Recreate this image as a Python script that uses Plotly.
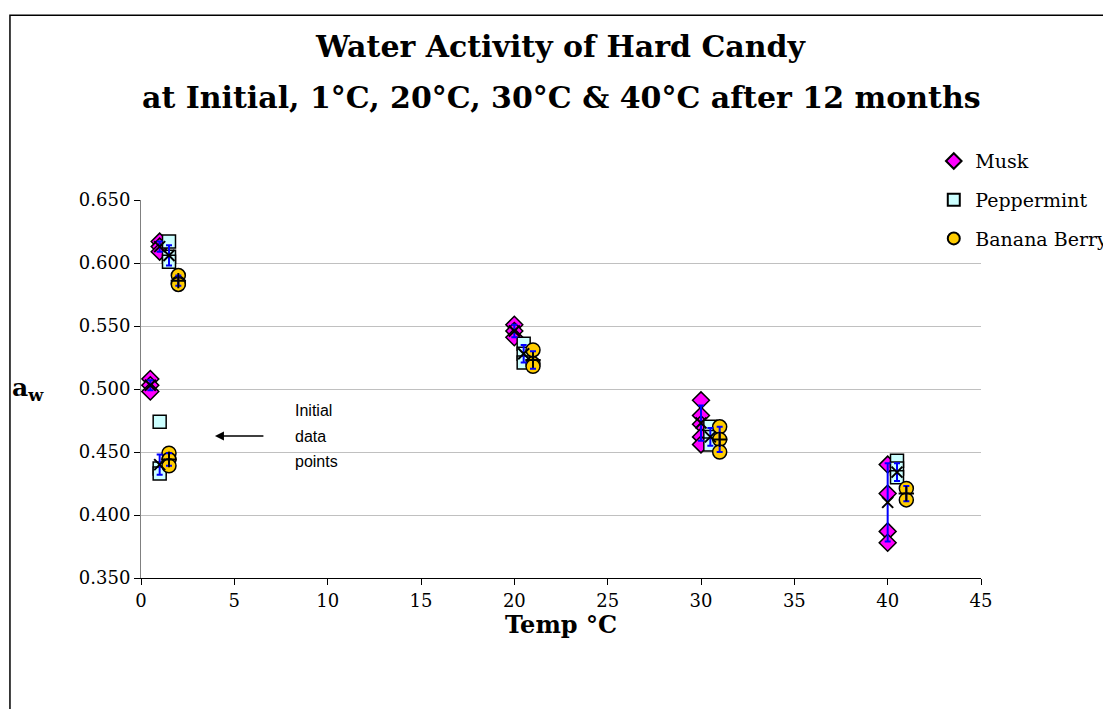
import plotly.graph_objects as go

# Replicate values
musk_x = [0.5, 0.5, 0.5, 1, 1, 1, 20, 20, 20, 30, 30, 30, 30, 30, 40, 40, 40, 40]
musk_y = [0.508, 0.503, 0.498, 0.617, 0.613, 0.609, 0.551, 0.546, 0.541,
          0.491, 0.479, 0.472, 0.462, 0.456, 0.440, 0.417, 0.387, 0.378]
pep_x = [1, 1, 1, 1.5, 1.5, 1.5, 20.5, 20.5, 20.5, 30.5, 30.5, 30.5, 40.5, 40.5, 40.5]
pep_y = [0.474, 0.437, 0.433, 0.617, 0.605, 0.601, 0.536, 0.528, 0.521,
         0.470, 0.462, 0.456, 0.443, 0.437, 0.430]
ban_x = [1.5, 1.5, 1.5, 2, 2, 2, 21, 21, 21, 31, 31, 31, 41, 41]
ban_y = [0.449, 0.444, 0.439, 0.590, 0.584, 0.583, 0.531, 0.520, 0.518,
         0.470, 0.460, 0.450, 0.421, 0.412]

# Means and error bars
musk_mx = [0.5, 1, 20, 30, 40]
musk_m = [0.503, 0.613, 0.546, 0.473, 0.410]
musk_e = [0.004, 0.004, 0.005, 0.014, 0.031]
pep_mx = [1, 1.5, 20.5, 30.5, 40.5]
pep_m = [0.440, 0.606, 0.528, 0.462, 0.434]
pep_e = [0.008, 0.008, 0.007, 0.007, 0.007]
ban_mx = [1.5, 2, 21, 31, 41]
ban_m = [0.444, 0.586, 0.523, 0.460, 0.417]
ban_e = [0.005, 0.004, 0.007, 0.010, 0.006]

y_ticks = [0.35, 0.40, 0.45, 0.50, 0.55, 0.60, 0.65]
y_ticktext = ["0.350", "0.400", "0.450", "0.500", "0.550", "0.600", "0.650"]
x_ticks = [0, 5, 10, 15, 20, 25, 30, 35, 40, 45]

title_1 = "Water Activity of Hard Candy"
title_2 = "at Initial, 1°C, 20°C, 30°C &amp; 40°C after 12 months"
note_lines = ["Initial", "data", "points"]

SERIF = "DejaVu Serif"

fig = go.Figure()

fig.add_trace(go.Scatter(x=musk_x, y=musk_y, mode="markers", name="Musk", legendgroup="a",
                         marker=dict(symbol="diamond", size=13, color="#FF00FF",
                                     line=dict(color="black", width=1.5))))
fig.add_trace(go.Scatter(x=pep_x, y=pep_y, mode="markers", name="Peppermint", legendgroup="b",
                         marker=dict(symbol="square", size=13, color="#CCFFFF",
                                     line=dict(color="black", width=1.5))))
fig.add_trace(go.Scatter(x=ban_x, y=ban_y, mode="markers", name="Banana Berry", legendgroup="c",
                         marker=dict(symbol="circle", size=14, color="#FFCC00",
                                     line=dict(color="black", width=1.5))))

for mx, m, e, sym in [(musk_mx, musk_m, musk_e, "x-thin-open"),
                      (pep_mx, pep_m, pep_e, "x-thin-open"),
                      (ban_mx, ban_m, ban_e, "cross-thin-open")]:
    fig.add_trace(go.Scatter(x=mx, y=m, mode="markers", showlegend=False,
                             marker=dict(symbol=sym, size=11, color="black",
                                         line=dict(color="black", width=2)),
                             error_y=dict(type="data", array=e, visible=True,
                                          color="#0000FF", thickness=2, width=3)))

# arrow to initial data points
fig.add_annotation(x=3.96, y=0.4627, xref="x", yref="y", ax=50, ay=0,
                   text="", showarrow=True, arrowhead=2, arrowsize=1.2,
                   arrowwidth=1.5, arrowcolor="black")
for txt, yy in zip(note_lines, [0.4833, 0.4627, 0.4421]):
    fig.add_annotation(x=8.15, y=yy, xref="x", yref="y", showarrow=False,
                       text=txt, xanchor="left", yanchor="middle",
                       font=dict(family="Liberation Sans", size=16, color="black"))

# titles
fig.add_annotation(xref="paper", yref="paper", x=0.5, y=1.405, showarrow=False,
                   text="<b>" + title_1 + "</b>", xanchor="center", yanchor="middle",
                   font=dict(family=SERIF, size=30, color="black"))
fig.add_annotation(xref="paper", yref="paper", x=0.5, y=1.272, showarrow=False,
                   text="<b>" + title_2 + "</b>", xanchor="center", yanchor="middle",
                   font=dict(family=SERIF, size=30, color="black"))

# axis titles
fig.add_annotation(xref="paper", yref="paper", x=-0.1345, y=0.5, showarrow=False,
                   text="<b>a<sub>w</sub></b>", xanchor="center", yanchor="middle",
                   font=dict(family=SERIF, size=25, color="black"))
fig.add_annotation(xref="paper", yref="paper", x=0.5, y=-0.124, showarrow=False,
                   text="<b>Temp °C</b>", xanchor="center", yanchor="middle",
                   font=dict(family=SERIF, size=24, color="black"))

# outer chart border
fig.add_shape(type="rect", xref="paper", yref="paper",
              x0=-0.156, x1=1.3, y0=-0.5, y1=1.489,
              line=dict(color="black", width=1.5))

fig.update_layout(
    width=1111, height=709,
    margin=dict(l=133, r=138, t=192, b=139, autoexpand=False),
    paper_bgcolor="white", plot_bgcolor="white",
    font=dict(family=SERIF, size=18, color="black"),
    legend=dict(x=0.942, y=1.153, xanchor="left", yanchor="top",
                font=dict(family=SERIF, size=19, color="black"),
                bgcolor="rgba(0,0,0,0)", tracegroupgap=11, itemsizing="constant",
                itemwidth=33),
    xaxis=dict(range=[0, 45], tickvals=x_ticks, showgrid=False, zeroline=False,
               showline=True, linecolor="black", linewidth=1,
               ticks="outside", ticklen=6, tickcolor="black"),
    yaxis=dict(range=[0.35, 0.65], tickvals=y_ticks, ticktext=y_ticktext,
               showgrid=True, gridcolor="#C0C0C0", gridwidth=1, zeroline=False,
               showline=True, linecolor="#808080", linewidth=1,
               ticks="outside", ticklen=6, tickcolor="black"),
)

fig.write_html("out.html")
